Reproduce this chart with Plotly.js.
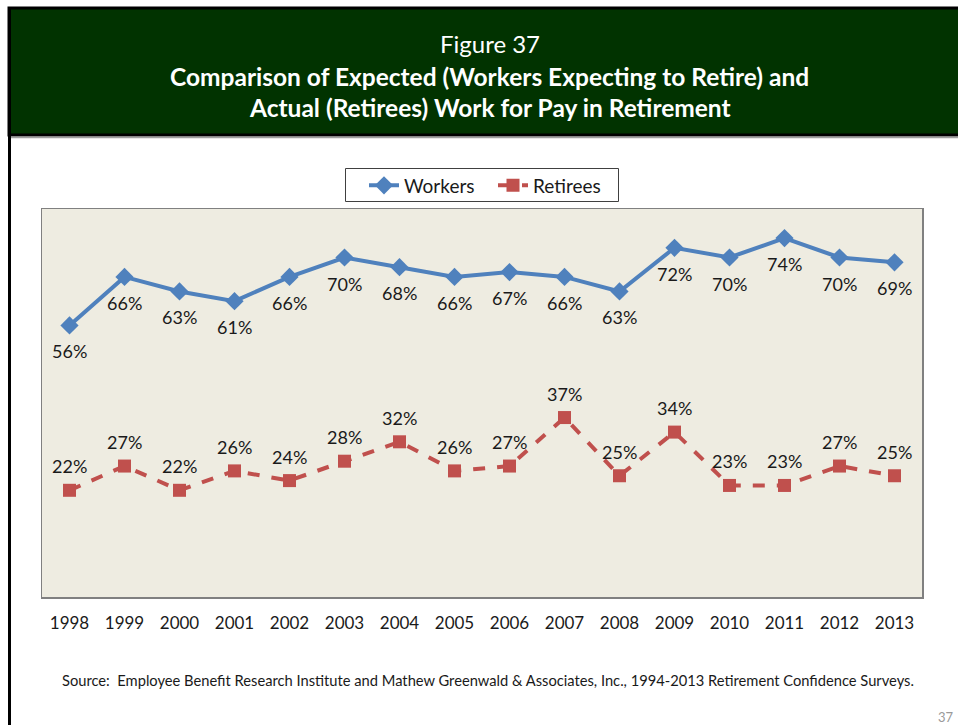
<!DOCTYPE html>
<html>
<head>
<meta charset="utf-8">
<script src="https://cdn.plot.ly/plotly-3.0.1.min.js"></script>
<style>
html,body{margin:0;padding:0;background:#fff;}
#chart{width:958px;height:725px;}
</style>
</head>
<body>
<div id="chart"></div>
<script>
const years = [1998,1999,2000,2001,2002,2003,2004,2005,2006,2007,2008,2009,2010,2011,2012,2013];
const workers = [56,66,63,61,66,70,68,66,67,66,63,72,70,74,70,69];
const retirees = [22,27,22,26,24,28,32,26,27,37,25,34,23,23,27,25];
const seriesNames = ['Workers','Retirees'];
const figureLabel = 'Figure 37';
const titleLines = ['Comparison of Expected (Workers Expecting to Retire) and','Actual (Retirees) Work for Pay in Retirement'];
const sourceText = 'Source:  Employee Benefit Research Institute and Mathew Greenwald &amp; Associates, Inc., 1994-2013 Retirement Confidence Surveys.';
const pageNum = '37';

const W = 958, H = 725;
const mL = 42, mR = 36, mT = 209, mB = 128;
const pw = W - mL - mR, ph = H - mT - mB;
const px = x => (x - mL) / pw;
const py = y => (H - mB - y) / ph;

const FONT = 'Lato, "Open Sans", sans-serif';
const LABEL_FONT = {family: FONT, size: 18, color: '#1a1a1a'};

const traces = [
  {
    x: years, y: workers, name: seriesNames[0], type: 'scatter',
    mode: 'lines+markers',
    line: {color: '#4F81BD', width: 4},
    marker: {symbol: 'diamond', size: 14, color: '#4F81BD'},
    cliponaxis: false
  },
  {
    x: years, y: retirees, name: seriesNames[1], type: 'scatter',
    mode: 'lines+markers',
    line: {color: '#C0504D', width: 4, dash: 'dash'},
    marker: {symbol: 'square', size: 13, color: '#C0504D'},
    cliponaxis: false
  }
];

const labelAnns = [];
years.forEach((yr, i) => {
  labelAnns.push({x: yr, y: workers[i], xref: 'x', yref: 'y', text: workers[i] + '%', showarrow: false,
    yshift: -26, font: LABEL_FONT, xanchor: 'center', yanchor: 'middle'});
  labelAnns.push({x: yr, y: retirees[i], xref: 'x', yref: 'y', text: retirees[i] + '%', showarrow: false,
    yshift: 24, font: LABEL_FONT, xanchor: 'center', yanchor: 'middle'});
});

const layout = {
  width: W, height: H,
  margin: {l: mL, r: mR, t: mT, b: mB},
  paper_bgcolor: '#ffffff',
  plot_bgcolor: '#EEECE1',
  font: {family: FONT, color: '#1a1a1a'},
  showlegend: true,
  legend: {
    orientation: 'h', x: px(364), y: py(166.5), xanchor: 'left', yanchor: 'top',
    bgcolor: 'rgba(0,0,0,0)', borderwidth: 0,
    font: {family: FONT, size: 19, color: '#1a1a1a'},
    itemwidth: 30, entrywidth: 84
  },
  xaxis: {
    range: [1997.5, 2013.5], tickmode: 'array', tickvals: years,
    ticktext: years.map(String),
    tickfont: {family: FONT, size: 17, color: '#1a1a1a'},
    ticks: 'outside', ticklen: 10, tickcolor: 'rgba(0,0,0,0)',
    showgrid: false, zeroline: false,
    showline: true, linecolor: '#808080', linewidth: 1.5, mirror: true
  },
  yaxis: {
    range: [0, 80], showticklabels: false, ticks: '', showgrid: false, zeroline: false,
    showline: true, linecolor: '#808080', linewidth: 1.5, mirror: true
  },
  shapes: [
    {type: 'rect', xref: 'paper', yref: 'paper', x0: px(9), x1: px(962), y0: py(8), y1: py(135),
     fillcolor: '#013300', line: {color: '#000000', width: 3}, layer: 'above'},
    {type: 'line', xref: 'paper', yref: 'paper', x0: px(11), x1: px(958), y0: py(137.5), y1: py(137.5),
     line: {color: '#a0a0a0', width: 1.5}},
    {type: 'line', xref: 'paper', yref: 'paper', x0: px(9.5), x1: px(9.5), y0: py(8), y1: py(725),
     line: {color: '#000000', width: 3}},
    {type: 'rect', xref: 'paper', yref: 'paper', x0: px(345.5), x1: px(618.5), y0: py(168.5), y1: py(201.5),
     fillcolor: 'rgba(0,0,0,0)', line: {color: '#404040', width: 1}, layer: 'below'}
  ],
  annotations: [
    {xref: 'paper', yref: 'paper', x: px(490), y: py(44), text: figureLabel, showarrow: false,
     font: {family: FONT, size: 24, color: '#ffffff'}, xanchor: 'center', yanchor: 'middle'},
    {xref: 'paper', yref: 'paper', x: px(490), y: py(76), text: '<b>' + titleLines[0] + '</b>', showarrow: false,
     font: {family: FONT, size: 24.5, color: '#ffffff'}, xanchor: 'center', yanchor: 'middle'},
    {xref: 'paper', yref: 'paper', x: px(490), y: py(107), text: '<b>' + titleLines[1] + '</b>', showarrow: false,
     font: {family: FONT, size: 24.5, color: '#ffffff'}, xanchor: 'center', yanchor: 'middle'},
    {xref: 'paper', yref: 'paper', x: px(488), y: py(680), text: sourceText, showarrow: false,
     font: {family: FONT, size: 14.7, color: '#1a1a1a'}, xanchor: 'center', yanchor: 'middle'},
    {xref: 'paper', yref: 'paper', x: px(956), y: py(717), text: pageNum, showarrow: false,
     font: {family: FONT, size: 13, color: '#9a9a9a'}, xanchor: 'right', yanchor: 'middle'}
  ].concat(labelAnns)
};

Plotly.newPlot('chart', traces, layout, {displayModeBar: false, staticPlot: true});
</script>
</body>
</html>
